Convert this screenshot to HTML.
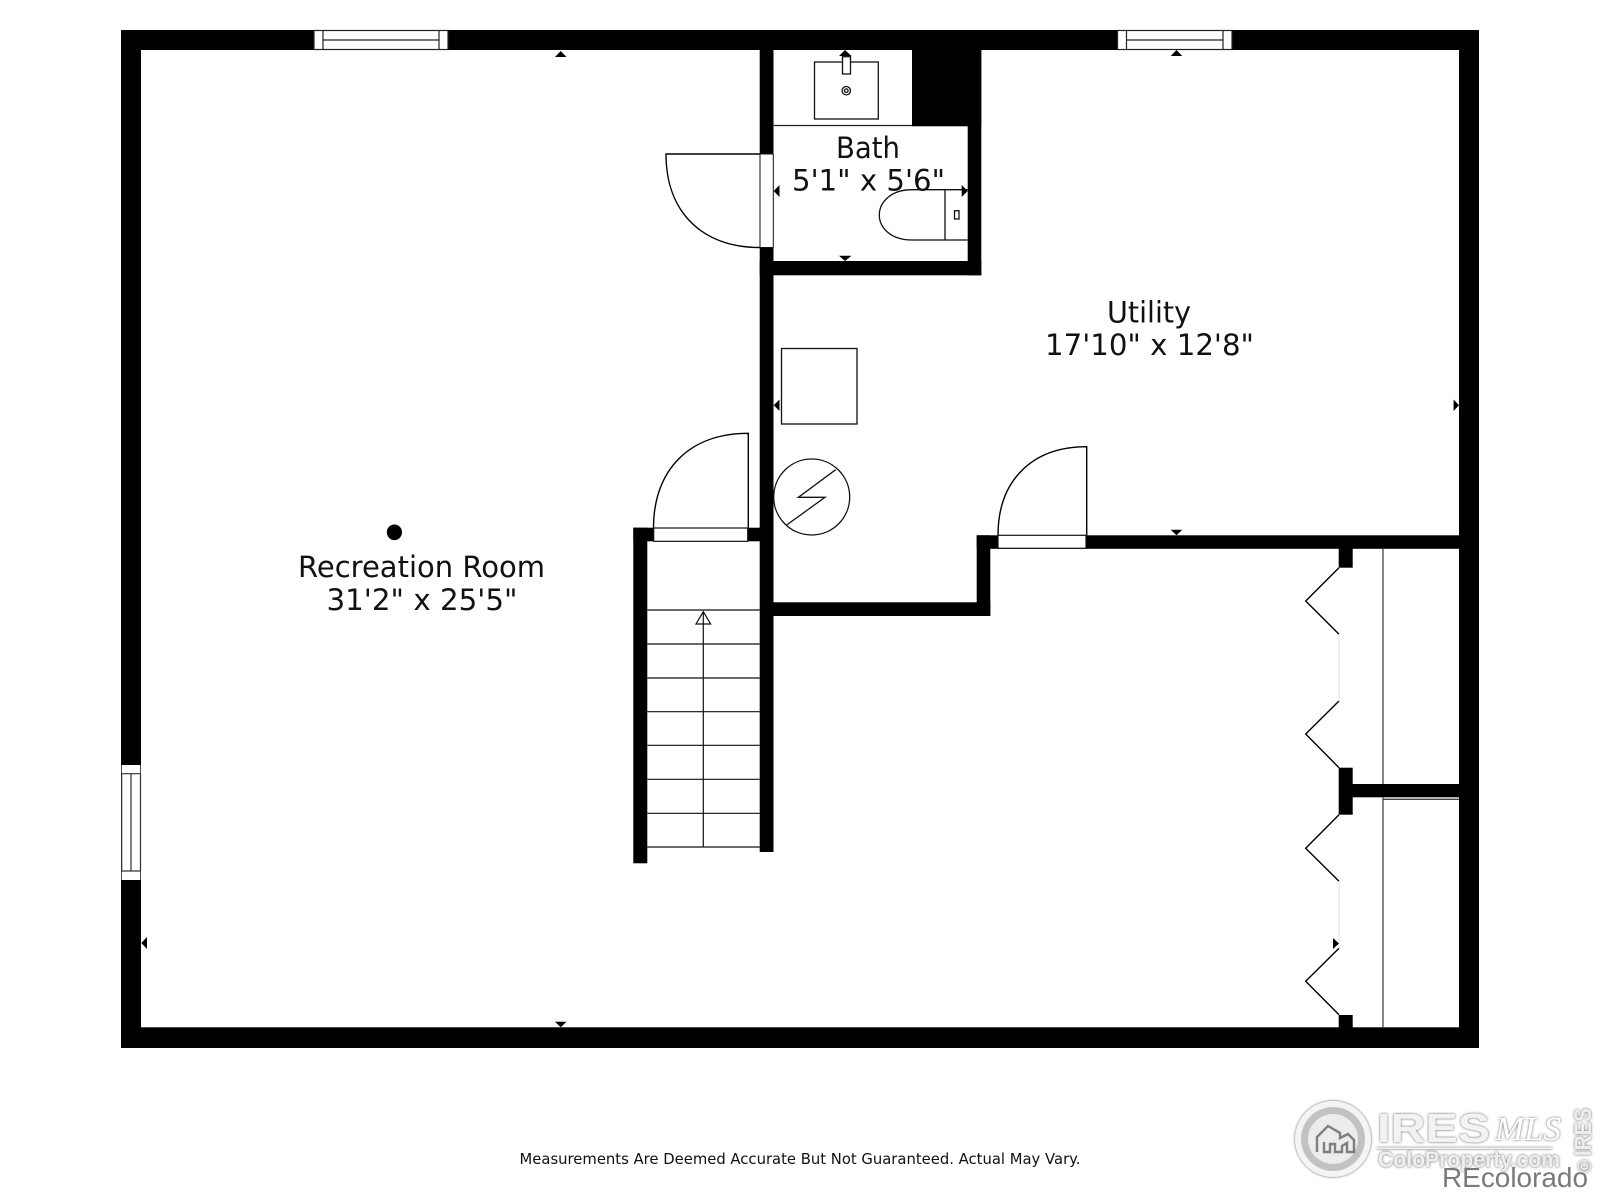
<!DOCTYPE html>
<html><head><meta charset="utf-8"><title>Floor plan</title>
<style>html,body{margin:0;padding:0;background:#fff}svg{display:block}text{font-family:"DejaVu Sans",sans-serif;fill:#111}</style></head>
<body>
<svg xmlns="http://www.w3.org/2000/svg" width="1600" height="1200" viewBox="0 0 1600 1200">
<defs>
<filter id="sh" x="-20%" y="-20%" width="140%" height="140%"><feDropShadow dx="0" dy="0" stdDeviation="1.4" flood-color="#555" flood-opacity="1"/></filter>
</defs>
<rect width="1600" height="1200" fill="#fff"/>
<!-- walls -->
<g fill="#000">
<rect x="121" y="30" width="1358" height="20"/>
<rect x="121" y="30" width="20" height="1018"/>
<rect x="121" y="1027.3" width="1358" height="20.7"/>
<rect x="1459" y="30" width="20" height="1018"/>
<rect x="759.7" y="30" width="13.8" height="822"/>
<rect x="912" y="30" width="69.3" height="96.3"/>
<rect x="967.7" y="50" width="13.6" height="225.3"/>
<rect x="759.7" y="261" width="221.6" height="14.3"/>
<rect x="633.3" y="527.7" width="14" height="335.6"/>
<rect x="633.3" y="527.7" width="130" height="13.6"/>
<rect x="773" y="602.3" width="217.3" height="13.7"/>
<rect x="976.7" y="535.3" width="13.6" height="80.7"/>
<rect x="976.7" y="535.3" width="490" height="13.5"/>
<rect x="1338.7" y="540" width="14" height="27.7"/>
<rect x="1338.7" y="767.7" width="14" height="47"/>
<rect x="1345" y="784" width="120" height="13.3"/>
<rect x="1338.7" y="1015" width="14" height="20"/>
</g>
<!-- windows -->
<g fill="#fff" stroke="#222" stroke-width="1.2">
<rect x="314" y="30.5" width="134" height="19"/>
<path d="M323 30.5V49.5M439 30.5V49.5M323 40H439" fill="none"/>
<rect x="1117.5" y="30.5" width="114.5" height="19"/>
<path d="M1126.5 30.5V49.5M1223 30.5V49.5M1126.5 40H1223" fill="none"/>
</g>
<rect x="121.7" y="765" width="18.6" height="115" fill="#fff"/>
<path d="M121.7 773.7H140.3M121.7 871H140.3M131 773.7V871M140.5 773.7V871M121.7 773.7V871" stroke="#333" stroke-width="1.2" fill="none"/>
<!-- door openings -->
<g fill="#fff" stroke="#111" stroke-width="1.2">
<rect x="760" y="154" width="13.3" height="93.5" stroke="none"/>
<path d="M760 154H773.3M760 247.5H773.3M760 154V247.5M773.3 154V247.5" fill="none" stroke-width="1"/>
<rect x="653.7" y="528" width="94" height="13.3"/>
<rect x="998" y="535.3" width="88" height="13"/>
</g>
<!-- door leaves -->
<g fill="none" stroke="#000" stroke-width="1.4">
<path d="M760 154H666C666 212 702 247.5 760 247.5"/>
<path d="M653.5 528C653.5 469.5 689.5 433.3 748.3 433.3V528"/>
<path d="M998 535.3C998 480.5 1032 446.7 1086.7 446.7V535.3"/>
</g>
<!-- stairs -->
<g stroke="#111" stroke-width="1.2" fill="none">
<path d="M647.3 610H759.7M647.3 644H759.7M647.3 678H759.7M647.3 711.7H759.7M647.3 745.3H759.7M647.3 779.3H759.7M647.3 813.3H759.7M647.3 847H759.7"/>
<path d="M703.3 847V612M696 624H710.7L703.3 611.7Z"/>
</g>
<!-- bath fixtures -->
<path d="M773.7 125.5H912" stroke="#222" stroke-width="1.2"/>
<g fill="none" stroke="#111" stroke-width="1.3">
<rect x="814.5" y="62" width="63.8" height="57"/>
<rect x="842.5" y="56.7" width="8" height="17.3" fill="#fff"/>
<circle cx="846.3" cy="90.7" r="4.2"/>
<circle cx="846.3" cy="90.7" r="1.8"/>
<path d="M967.7 189.7H912C890 189.7 879.3 203 879.3 215C879.3 227 890 240 912 240H967.7M945 189.7V240"/>
<rect x="954.5" y="210.7" width="4.5" height="8.3"/>
</g>
<!-- utility fixtures -->
<g fill="none" stroke="#111" stroke-width="1.3">
<rect x="781.5" y="348.5" width="75.5" height="75.5"/>
<circle cx="811.7" cy="497" r="38"/>
<path d="M835.7 469.7L798.3 497.3H825L786.7 525"/>
</g>
<!-- closets -->
<g fill="none" stroke="#000" stroke-width="1.4">
<path d="M1339 567.7L1305.7 601L1339 634.3M1339 701L1305.7 734L1339 767.7M1339 814.7L1305.7 848.3L1339 881.3M1339 948.3L1305.7 981.3L1339 1014.7"/>
</g>
<path d="M1339 634.3V701M1339 881.3V948.3" stroke="#e2e2e2" stroke-width="1"/>
<path d="M1383 549V784M1383 797.3V1027.3M1383 799.3H1459" stroke="#444" stroke-width="1.3" fill="none"/>
<!-- small triangles -->
<g fill="#000">
<path d="M560.7 51L566.5 57H555Z"/>
<path d="M1176.5 50L1182.3 56H1170.7Z"/>
<path d="M845 50L851.5 56H839Z"/>
<path d="M1176.5 535.3L1182.3 529.7H1170.7Z"/>
<path d="M560.7 1027.3L566.5 1021.7H555Z"/>
<path d="M845 261L851.5 255.7H839Z"/>
<path d="M1459 405.3L1453.6 399.5V411Z"/>
<path d="M967.7 191L961.7 185V197Z"/>
<path d="M773.7 191L779.5 185V197Z"/>
<path d="M773.7 405.3L779.5 399.5V411Z"/>
<path d="M141.3 943L147 937V949Z"/>
<path d="M1339 943.5L1333 938V949Z"/>
<ellipse cx="394.4" cy="532.3" rx="7.6" ry="7.8"/>
</g>
<!-- labels -->
<g font-size="29">
<text x="298" y="577" textLength="247" lengthAdjust="spacingAndGlyphs">Recreation Room</text>
<text x="326.5" y="610" textLength="191" lengthAdjust="spacingAndGlyphs">31'2" x 25'5"</text>
<text x="1107" y="322.6" textLength="84" lengthAdjust="spacingAndGlyphs">Utility</text>
<text x="1045" y="355" textLength="209" lengthAdjust="spacingAndGlyphs">17'10" x 12'8"</text>
<text x="836" y="158" textLength="64" lengthAdjust="spacingAndGlyphs">Bath</text>
<text x="792" y="190.7" textLength="153" lengthAdjust="spacingAndGlyphs">5'1" x 5'6"</text>
</g>
<text x="519.5" y="1164" font-size="15.5" textLength="561" lengthAdjust="spacingAndGlyphs">Measurements Are Deemed Accurate But Not Guaranteed. Actual May Vary.</text>
<!-- logo -->
<g filter="url(#sh)">
<circle cx="1333" cy="1139" r="38" fill="#f4f4f4"/>
<circle cx="1333" cy="1139" r="32" fill="#c2c2c2"/>
<circle cx="1333" cy="1139" r="25" fill="#ececec"/>
</g>
<path d="M1317 1152V1137L1328 1126L1340 1133L1340 1138L1348 1134L1354 1140V1152H1347V1143L1342 1146V1152H1335V1144L1330 1144V1152H1324V1142" fill="none" stroke="#7f7f7f" stroke-width="2.4"/>
<g filter="url(#sh)">
<text x="1377" y="1142" font-size="41" textLength="113" lengthAdjust="spacingAndGlyphs" style="font-family:'Liberation Sans',sans-serif;fill:#f2f2f2;font-weight:700">IRES</text>
<text x="1495" y="1140" font-size="34" textLength="66" lengthAdjust="spacingAndGlyphs" style="font-family:'Liberation Serif',serif;font-style:italic;fill:#fff">MLS</text>
<rect x="1377" y="1147.5" width="175" height="1.5" fill="#eee"/>
<text x="1378" y="1167" font-size="22" textLength="182" lengthAdjust="spacingAndGlyphs" style="font-family:'Liberation Sans',sans-serif;fill:#eee;font-weight:700">ColoProperty.com</text>
<text transform="translate(1591 1156) rotate(-90)" font-size="24" textLength="48" lengthAdjust="spacingAndGlyphs" style="font-family:'Liberation Sans',sans-serif;fill:#eee;font-weight:700">IRES</text>
<text transform="translate(1591 1173) rotate(-90)" font-size="18" style="font-family:'Liberation Sans',sans-serif;fill:#eee;font-weight:700">©</text>
</g>
<text x="1442" y="1187" font-size="28" textLength="146" lengthAdjust="spacingAndGlyphs" style="font-family:'Liberation Sans',sans-serif;fill:#7a7a7a">REcolorado</text>
</svg>
</body></html>
